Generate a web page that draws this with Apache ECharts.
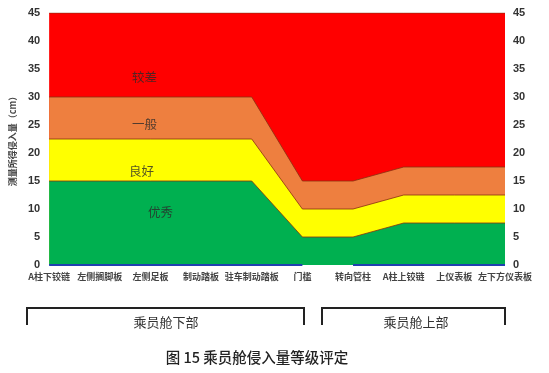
<!DOCTYPE html>
<html>
<head>
<meta charset="utf-8">
<script src="https://cdn.jsdelivr.net/npm/echarts@6/dist/echarts.min.js"></script>
<style>html,body{margin:0;padding:0;background:#fff;}#c{width:549px;height:373px;}</style>
</head>
<body>
<div id="c"></div>
<script>
var categories = ['A柱下铰链','左侧搁脚板','左侧足板','制动踏板','驻车制动踏板','门槛','转向管柱','A柱上铰链','上仪表板','左下方仪表板'];
var excellentTop = [15,15,15,15,15,5,5,7.5,7.5,7.5];
var goodTop = [22.5,22.5,22.5,22.5,22.5,10,10,12.5,12.5,12.5];
var fairTop = [30,30,30,30,30,15,15,17.5,17.5,17.5];
var poorTop = [45,45,45,45,45,45,45,45,45,45];
var lowerBase = [0,0,0,0,0,0,null,null,null,null];
var upperBase = [null,null,null,null,null,null,0,0,0,0];
var yTicks = [0,5,10,15,20,25,30,35,40,45];
var gradeLabels = [
  {name:'较差', x:2, y:33.6},
  {name:'一般', x:2, y:25.2},
  {name:'良好', x:2, y:16.8},
  {name:'优秀', x:2, y:9.4}
];
var gradeOffsets = [[-6,0],[-6,0],[-9,0],[10,0]];
var groupNames = ['乘员舱下部','乘员舱上部'];
var caption = '图 15 乘员舱侵入量等级评定';

var chart = echarts.init(document.getElementById('c'), null, {renderer:'canvas'});
function area(name, data, color){
  return {name:name, type:'line', data:data, symbol:'none', silent:true,
    lineStyle:{color:'#8a3010', width:1, opacity:0.8},
    areaStyle:{color:color, opacity:1}, z:2};
}
var axisLbl = {color:'#333', fontSize:11, fontWeight:'bold', fontFamily:'Liberation Sans, Arial'};
chart.setOption({
  animation:false,
  grid:{left:47, right:44, top:13, bottom:108},
  xAxis:{type:'category', data:categories, boundaryGap:false,
    axisLine:{show:false}, axisTick:{show:false}, splitLine:{show:false},
    axisLabel:{interval:0, color:'#444', fontSize:9, fontWeight:'bold', margin:7, fontFamily:'Noto Sans CJK SC'}},
  yAxis:[
    {type:'value', min:0, max:45, interval:5, position:'left',
      name:'测量所得侵入量（cm）', nameLocation:'middle', nameRotate:90, nameGap:31,
      nameTextStyle:{color:'#444', fontSize:9, fontWeight:'bold', fontFamily:'Noto Sans CJK SC'},
      axisLine:{show:false}, axisTick:{show:false}, splitLine:{show:false},
      axisLabel:Object.assign({margin:9}, axisLbl)},
    {type:'value', min:0, max:45, interval:5, position:'right',
      axisLine:{show:false}, axisTick:{show:false}, splitLine:{show:false},
      axisLabel:Object.assign({margin:8}, axisLbl)}
  ],
  series:[
    area('较差', poorTop, '#FF0000'),
    area('一般', fairTop, '#EE7F3F'),
    area('良好', goodTop, '#FFFF00'),
    area('优秀', excellentTop, '#00B050'),
    {type:'line', data:lowerBase, symbol:'none', lineStyle:{color:'#2040B0', width:2}, z:5, silent:true},
    {type:'line', data:upperBase, symbol:'none', lineStyle:{color:'#2040B0', width:2}, z:5, silent:true},
    {type:'scatter', symbolSize:0, z:10, silent:true,
      data:gradeLabels.map(function(g,i){return {value:[g.x,g.y], name:g.name,
        label:{show:true, position:'inside', formatter:g.name, offset:gradeOffsets[i],
          color:'#2a2a2a', fontSize:12.5, fontFamily:'Noto Sans CJK SC'}};})}
  ],
  graphic:[
    {type:'polyline', shape:{points:[[27,325],[27,308],[304,308],[304,325]]}, style:{stroke:'#222', lineWidth:2, fill:null}},
    {type:'polyline', shape:{points:[[322,325],[322,308],[505,308],[505,325]]}, style:{stroke:'#222', lineWidth:2, fill:null}},
    {type:'text', x:166, y:322, style:{text:groupNames[0], fill:'#333', font:'13px "Noto Sans CJK SC"', textAlign:'center', textVerticalAlign:'middle'}},
    {type:'text', x:416, y:322, style:{text:groupNames[1], fill:'#333', font:'13px "Noto Sans CJK SC"', textAlign:'center', textVerticalAlign:'middle'}},
    {type:'text', x:257, y:357, style:{text:caption, fill:'#222', font:'500 14.5px "Noto Sans CJK SC"', textAlign:'center', textVerticalAlign:'middle'}}
  ]
});
</script>
</body>
</html>
